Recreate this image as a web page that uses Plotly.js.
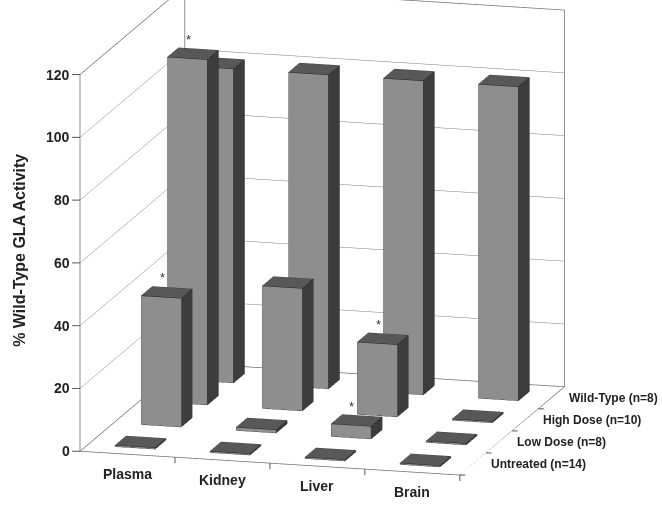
<!DOCTYPE html>
<html>
<head>
<meta charset="utf-8">
<script src="https://cdn.plot.ly/plotly-3.0.1.min.js"></script>
<style>
  html, body { margin: 0; padding: 0; background: #fff; }
  #chart { width: 662px; height: 505px; }
</style>
</head>
<body>
<div id="chart"></div>
<script>
// Tissues along the front axis, treatment groups going back
const tissues = ['Plasma', 'Kidney', 'Liver', 'Brain'];
const groups = ['Untreated (n=14)', 'Low Dose (n=8)', 'High Dose (n=10)', 'Wild-Type (n=8)'];

// % of wild-type GLA activity per group, in tissue order
const untreated = [0.4, 0.4, 0.4, 0.4];
const lowDose   = [41, 1, 4, 0.4];
const highDose  = [110, 39, 23, 0.4];
const wildType  = [100, 100, 100, 100];

// significance markers (same order as the value arrays)
const lowDoseStar  = [true, false, true, false];
const highDoseStar = [true, false, true, false];

const valueTicks = [0, 20, 40, 60, 80, 100, 120];

const seriesValues = [untreated, lowDose, highDose, wildType];
const noStars = [false, false, false, false];
const seriesStars = [noStars, lowDoseStar, highDoseStar, noStars];

const XR = [0.5, 4.5], YR = [0.5, 4.5], ZR = [0, 120];
const BAR_W = 0.42, BAR_D = 0.42;
const FRONT = '#8e8e8e', SIDE = '#3c3c3c', TOP = '#585858';
const TEXT = '#222';

const X = [], Y = [], Z = [], I = [], J = [], K = [], FC = [];
const edgeX = [], edgeY = [], edgeZ = [];

function pushPath(pts) {
  pts.forEach(p => { edgeX.push(p[0]); edgeY.push(p[1]); edgeZ.push(p[2]); });
  edgeX.push(null); edgeY.push(null); edgeZ.push(null);
}

function addBar(cx, cy, h) {
  const x0 = cx - BAR_W / 2, x1 = cx + BAR_W / 2;
  const y0 = cy - BAR_D / 2, y1 = cy + BAR_D / 2;
  const b = X.length;
  const pts = [[x0,y0,0],[x1,y0,0],[x1,y1,0],[x0,y1,0],[x0,y0,h],[x1,y0,h],[x1,y1,h],[x0,y1,h]];
  pts.forEach(p => { X.push(p[0]); Y.push(p[1]); Z.push(p[2]); });
  const faces = [
    [[0,1,5],[0,5,4], FRONT],
    [[1,2,6],[1,6,5], SIDE],
    [[4,5,6],[4,6,7], TOP],
    [[3,2,6],[3,6,7], SIDE],
    [[0,3,7],[0,7,4], FRONT],
    [[0,1,2],[0,2,3], TOP]
  ];
  faces.forEach(f => {
    [f[0], f[1]].forEach(t => { I.push(b + t[0]); J.push(b + t[1]); K.push(b + t[2]); FC.push(f[2]); });
  });
  // visible outline of the bar
  [[0,1,5,4,0],[1,2,6,5],[4,7,6]].forEach(loop => pushPath(loop.map(v => pts[v])));
}

const sceneAnn = [];
seriesValues.forEach((vals, g) => {
  vals.forEach((v, t) => {
    addBar(t + 1, g + 1, v);
    if (seriesStars[g][t]) {
      sceneAnn.push({
        x: t + 1 - 0.05, y: g + 1, z: v + 4.5,
        text: '*', showarrow: false,
        font: { family: 'Liberation Sans', size: 13, color: '#333' }
      });
    }
  });
});

// value axis: labels with short tick marks on the front-left edge
valueTicks.forEach(v => {
  sceneAnn.push({
    x: XR[0], y: YR[0], z: v, text: String(v),
    showarrow: true, arrowhead: 0, arrowwidth: 1, arrowcolor: '#555',
    ax: -8, ay: 0, xanchor: 'right', standoff: 0,
    font: { family: 'Liberation Sans', size: 14, color: TEXT, weight: 700 }
  });
});

// category labels under the front edge, tick marks between categories
tissues.forEach((name, t) => {
  sceneAnn.push({
    x: t + 1, y: YR[0], z: ZR[0], text: name, showarrow: false,
    yanchor: 'top', yshift: -10,
    font: { family: 'Liberation Sans', size: 14, color: TEXT, weight: 700 }
  });
  sceneAnn.push({
    x: t + 1.5, y: YR[0], z: ZR[0], text: ' ',
    showarrow: true, arrowhead: 0, arrowwidth: 1, arrowcolor: '#555',
    ax: 0, ay: 8, standoff: 0, font: { size: 1 }
  });
});

// group labels along the right floor edge, tick marks between groups
groups.forEach((name, g) => {
  sceneAnn.push({
    x: XR[1], y: g + 1, z: ZR[0], text: name, showarrow: false,
    xanchor: 'left', xshift: 16,
    font: { family: 'Liberation Sans', size: 12, color: TEXT, weight: 700 }
  });
  sceneAnn.push({
    x: XR[1], y: g + 0.5, z: ZR[0], text: ' ',
    showarrow: true, arrowhead: 0, arrowwidth: 1, arrowcolor: '#555',
    ax: 7, ay: 0, standoff: 0, font: { size: 1 }
  });
});

// walls and floor outline
const frameX = [], frameY = [], frameZ = [];
function framePath(pts) {
  pts.forEach(p => { frameX.push(p[0]); frameY.push(p[1]); frameZ.push(p[2]); });
  frameX.push(null); frameY.push(null); frameZ.push(null);
}
framePath([[XR[0],YR[0],ZR[1]],[XR[0],YR[0],ZR[0]],[XR[1],YR[0],ZR[0]],[XR[1],YR[1],ZR[0]],[XR[1],YR[1],ZR[1]],[XR[0],YR[1],ZR[1]],[XR[0],YR[0],ZR[1]]]);
framePath([[XR[0],YR[1],ZR[0]],[XR[0],YR[1],ZR[1]]]);
framePath([[XR[0],YR[0],ZR[0]],[XR[0],YR[1],ZR[0]],[XR[1],YR[1],ZR[0]]]);

const bars = {
  type: 'mesh3d', x: X, y: Y, z: Z, i: I, j: J, k: K,
  facecolor: FC, flatshading: true,
  lighting: { ambient: 1, diffuse: 0, specular: 0, roughness: 1, fresnel: 0 },
  hoverinfo: 'skip', showscale: false
};

const edges = {
  type: 'scatter3d', mode: 'lines', x: edgeX, y: edgeY, z: edgeZ,
  line: { color: '#1e1e1e', width: 1 }, hoverinfo: 'skip', showlegend: false
};

const frame = {
  type: 'scatter3d', mode: 'lines', x: frameX, y: frameY, z: frameZ,
  line: { color: '#6e6e6e', width: 1.5 }, hoverinfo: 'skip', showlegend: false
};

// camera: looking from the front, slightly right and above
const az = 15.25 * Math.PI / 180, el = 13.3 * Math.PI / 180, dist = 1.667;
const shift = { x: 0.0386, y: -0.0101, z: -0.0842 };

const layout = {
  width: 662, height: 505,
  margin: { l: 0, r: 0, t: 0, b: 0 },
  paper_bgcolor: '#fff',
  showlegend: false,
  scene: {
    domain: { x: [0, 1], y: [0, 1] },
    aspectmode: 'manual',
    aspectratio: { x: 1.559, y: 1.576, z: 1.533 },
    camera: {
      eye: {
        x: shift.x + dist * Math.sin(az) * Math.cos(el),
        y: shift.y - dist * Math.cos(az) * Math.cos(el),
        z: shift.z + dist * Math.sin(el)
      },
      center: shift,
      up: { x: 0, y: 0, z: 1 },
      projection: { type: 'orthographic' }
    },
    xaxis: {
      range: XR, tickvals: [1, 2, 3, 4], showticklabels: false,
      showgrid: false, zeroline: false, showline: false,
      showbackground: false, ticks: '', title: { text: '' }, showspikes: false
    },
    yaxis: {
      range: YR, tickvals: [1, 2, 3, 4], showticklabels: false,
      showgrid: false, zeroline: false, showline: false,
      showbackground: false, ticks: '', title: { text: '' }, showspikes: false
    },
    zaxis: {
      range: ZR, tickvals: valueTicks, showticklabels: false,
      showgrid: true, gridcolor: '#7c7c7c', gridwidth: 1, zeroline: false,
      showline: false, showbackground: false, ticks: '', title: { text: '' },
      showspikes: false
    },
    annotations: sceneAnn
  },
  annotations: [{
    xref: 'paper', yref: 'paper', x: 0.03, y: 0.505, xanchor: 'center', yanchor: 'middle',
    text: '% Wild-Type GLA Activity', textangle: -90, showarrow: false,
    font: { family: 'Liberation Sans', size: 16, color: TEXT, weight: 700 }
  }]
};

Plotly.newPlot('chart', [bars, edges, frame], layout, { displayModeBar: false });
</script>
</body>
</html>
